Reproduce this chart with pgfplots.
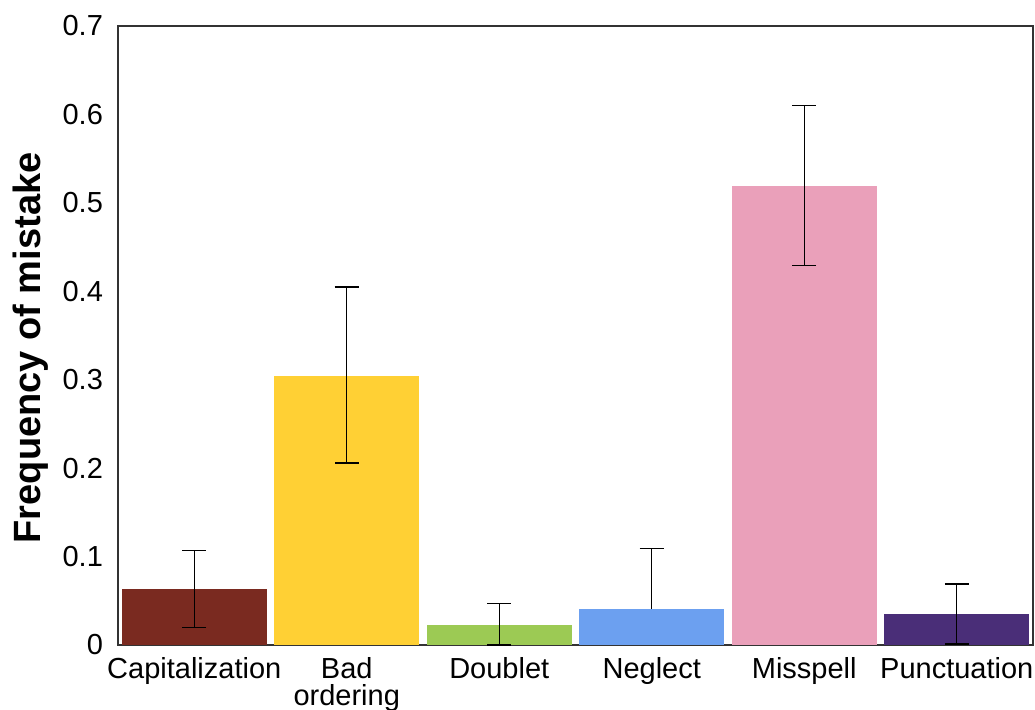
\documentclass[border=0pt]{standalone}
\usepackage{pgfplots}
\pgfplotsset{compat=1.18}
\usepackage{fontspec}
\setmainfont{Liberation Sans}
\definecolor{cCap}{RGB}{122,42,32}
\definecolor{cBad}{RGB}{255,208,52}
\definecolor{cDou}{RGB}{156,202,84}
\definecolor{cNeg}{RGB}{108,160,240}
\definecolor{cMis}{RGB}{234,160,186}
\definecolor{cPun}{RGB}{74,46,120}
\begin{document}
\begin{tikzpicture}
\begin{axis}[
  scale only axis,
  width=457.5pt, height=309.5pt,
  xmin=-0.5, xmax=5.5, ymin=0, ymax=0.7,
  xtick={0,1,2,3,4,5},
  xticklabels={Capitalization,Bad\\ordering,Doublet,Neglect,Misspell,Punctuation},
  xticklabel style={align=center, font=\fontsize{14.5}{13.5}\selectfont, yshift=-2.5pt},
  ytick={0,0.1,0.2,0.3,0.4,0.5,0.6,0.7},
  yticklabels={0,0.1,0.2,0.3,0.4,0.5,0.6,0.7},
  yticklabel style={font=\fontsize{14.5}{14}\selectfont, xshift=-4pt},
  major tick length=0pt,
  axis line style={black!80, line width=0.6pt},
  ylabel={\textbf{Frequency of mistake}},
  ylabel style={font=\fontsize{19}{18}\selectfont, at={(axis description cs:-0.095,0.48)}, anchor=center},
  ybar, bar width=72.5pt, bar shift=0pt,
  clip=false,
]
\addplot[fill=cCap, draw=none, error bars/.cd, y dir=both, y explicit, error bar style={black, line width=0.7pt}, error mark options={rotate=90, mark size=6pt, line width=0.7pt, black}]
  coordinates {(0,0.063) += (0,0.044) -= (0,0.043)};
\addplot[fill=cBad, draw=none, error bars/.cd, y dir=both, y explicit, error bar style={black, line width=0.7pt}, error mark options={rotate=90, mark size=6pt, line width=0.7pt, black}]
  coordinates {(1,0.304) += (0,0.101) -= (0,0.098)};
\addplot[fill=cDou, draw=none, error bars/.cd, y dir=both, y explicit, error bar style={black, line width=0.7pt}, error mark options={rotate=90, mark size=6pt, line width=0.7pt, black}]
  coordinates {(2,0.023) += (0,0.024) -= (0,0.023)};
\addplot[fill=cNeg, draw=none, error bars/.cd, y dir=plus, y explicit, error bar style={black, line width=0.7pt}, error mark options={rotate=90, mark size=6pt, line width=0.7pt, black}]
  coordinates {(3,0.041) += (0,0.068) -= (0,0)};
\addplot[fill=cMis, draw=none, error bars/.cd, y dir=both, y explicit, error bar style={black, line width=0.7pt}, error mark options={rotate=90, mark size=6pt, line width=0.7pt, black}]
  coordinates {(4,0.519) += (0,0.091) -= (0,0.090)};
\addplot[fill=cPun, draw=none, error bars/.cd, y dir=both, y explicit, error bar style={black, line width=0.7pt}, error mark options={rotate=90, mark size=6pt, line width=0.7pt, black}]
  coordinates {(5,0.035) += (0,0.034) -= (0,0.034)};
\coordinate (sw) at (rel axis cs:0,0);
\end{axis}
\pgfresetboundingbox
\path (sw) ++(-59pt,-32pt) rectangle ++(517.5pt,354.5pt);
\end{tikzpicture}
\end{document}
